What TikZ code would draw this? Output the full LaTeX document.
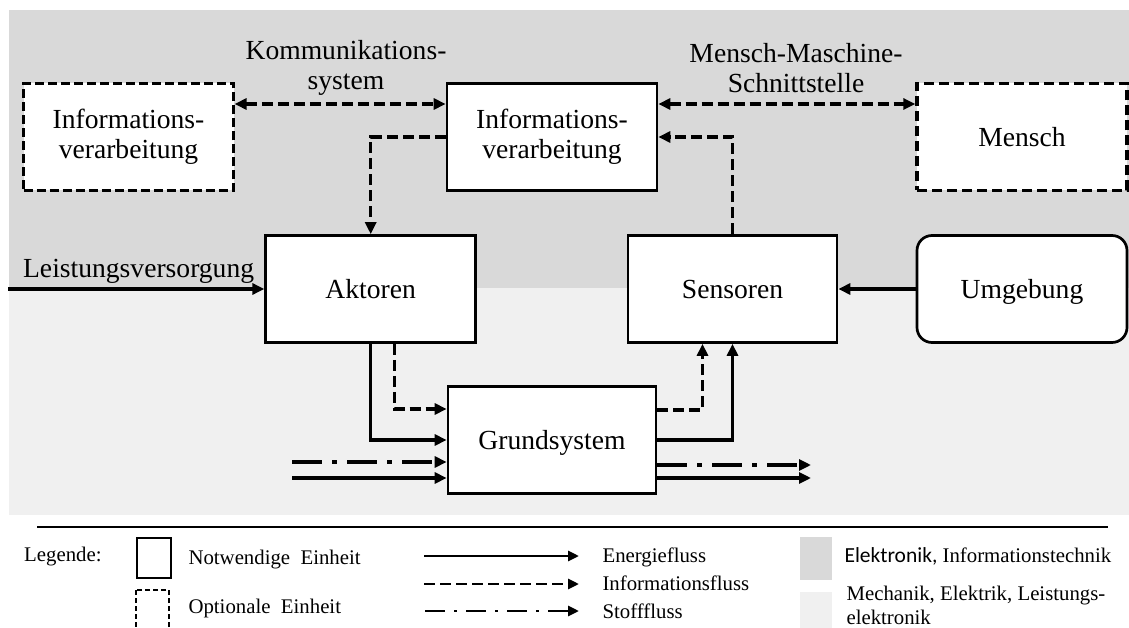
\documentclass[tikz,border=0pt]{standalone}
\usepackage{fontspec}
\setmainfont{Liberation Serif}
\newfontfamily\calibfont{Carlito}
\usetikzlibrary{arrows.meta}

\definecolor{elecgray}{HTML}{D9D9D9}
\definecolor{mechgray}{HTML}{F0F0F0}

\begin{document}
\begin{tikzpicture}[x=1pt,y=-1pt,
  bigtext/.style={font=\fontsize{27.6}{30.5}\selectfont},
  smalltext/.style={font=\fontsize{20.8}{24}\selectfont},
  unitbox/.style={draw, line width=2.7pt, fill=white, bigtext, align=center,
    inner sep=0pt, minimum width=#1, minimum height=107pt},
  unitbox/.default=210pt,
  oneline/.style={text height=18.6pt, text depth=0pt},
  optbox/.style={unitbox, line width=2.2pt, dash pattern=on 9pt off 4pt},
  optboxthick/.style={unitbox, line width=3.4pt, dash pattern=on 10pt off 5pt},
  tip/.style={-{Triangle[length=12pt,width=11pt]}},
  bitip/.style={{Triangle[length=12pt,width=11pt]}-{Triangle[length=12pt,width=11pt]}},
  energy/.style={line width=3.3pt, tip},
  infoflow/.style={line width=3.3pt, tip, dash pattern=on 11pt off 5pt},
  infobi/.style={line width=3.3pt, bitip, dash pattern=on 11pt off 5pt},
  matter/.style={line width=3.3pt, tip, dash pattern=on 30pt off 10pt on 5pt off 10pt},
  legline/.style={line width=2.8pt, -{Triangle[length=11pt,width=10pt]}},
]
\useasboundingbox (0,0) rectangle (1129,628);
\clip (0,0) rectangle (1129,628);

% domain backgrounds
\fill[elecgray] (9,10) rectangle (1129,288);
\fill[mechgray] (9,288) rectangle (1129,515);

% units
\node[optbox]      (infoL)  at (128.5,137) {Informations-\\verarbeitung};
\node[unitbox]     (infoC)  at (552,137)   {Informations-\\verarbeitung};
\node[optboxthick, oneline] (mensch) at (1022,137) {Mensch};
\node[unitbox, oneline]     (akt)    at (370.7,289) {Aktoren};
\node[unitbox=209pt, oneline] (sens) at (732.5,289) {Sensoren};
\node[unitbox, oneline, rounded corners=15pt] (umg) at (1022,289) {Umgebung};
\node[unitbox=208pt, oneline] (grund) at (552,440)  {Grundsystem};

% labels of the interfaces
\node[bigtext, align=center] (komm) at (346,68) {Kommunikations-\\system};
\node[bigtext, align=center] (mms)  at (796,68) {Mensch-Maschine-\\Schnittstelle};
\node[bigtext, anchor=base west] (lvtext) at (19.6,277) {Leistungsversorgung};

% information paths
\draw[infobi] ([yshift=33pt]infoL.east) -- ([yshift=33pt]infoC.west);
\draw[infobi] ([yshift=33pt]infoC.east) -- ([yshift=33pt]mensch.west);
\draw[infoflow] (infoC.west) -| (akt.north);
\draw[infoflow] (sens.north) |- (infoC.east);
\draw[infoflow] ([xshift=24pt]akt.south) |- ([yshift=31pt]grund.west);
\draw[infoflow] ([yshift=30pt]grund.east) -| ([xshift=-30pt]sens.south);

% energy paths
\coordinate (lv) at (8,289);
\draw[energy] (lv) -- (akt.west);
\draw[energy] (akt.south) |- (grund.west);
\draw[energy] (grund.east) -| (sens.south);
\draw[energy] (umg.west) -- (sens.east);

% external flows into and out of the base system
\coordinate (inM) at (292,462);
\coordinate (inE) at (292,478);
\coordinate (outM) at (811,465);
\coordinate (outE) at (811,478);
\draw[matter] (inM) -- (inM -| grund.west);
\draw[energy] (inE) -- (inE -| grund.west);
\draw[matter] (grund.east |- outM) -- (outM);
\draw[energy] (grund.east |- outE) -- (outE);

% legend
\coordinate (sepL) at (37,527);
\coordinate (sepR) at (1108,527);
\draw[line width=2pt] (sepL) -- (sepR);

\node[smalltext, anchor=base west] (leg) at (20.7,561) {Legende:};
\draw[line width=2.7pt] (137,538) rectangle (171,578);
\draw[line width=2pt, dash pattern=on 5pt off 3pt] (136,590) rectangle (169,640);
\node[smalltext, anchor=base west] (lgN) at (185,564) {Notwendige\ \ Einheit};
\node[smalltext, anchor=base west] (lgO) at (185,613) {Optionale\ \ Einheit};

\coordinate (eA) at (424,556); \coordinate (eB) at (579,556);
\coordinate (iA) at (424,584); \coordinate (iB) at (579,584);
\coordinate (sA) at (425,611); \coordinate (sB) at (579,611);
\draw[legline] (eA) -- (eB);
\draw[legline, dash pattern=on 11pt off 5pt] (iA) -- (iB);
\draw[legline, dash pattern=on 20pt off 9pt on 3pt off 9pt] (sA) -- (sB);
\node[smalltext, anchor=base west] (lgE) at (599,562) {Energiefluss};
\node[smalltext, anchor=base west] (lgI) at (599,590) {Informationsfluss};
\node[smalltext, anchor=base west] (lgS) at (599,618) {Stofffluss};

\fill[elecgray] (800,537) rectangle (832,580);
\fill[mechgray] (800,592) rectangle (832,630);
\node[smalltext, anchor=base west] (lgEl) at (841,562) {{\calibfont\fontsize{21.5}{24}\selectfont Elektronik,} Informationstechnik};
\node[smalltext, anchor=base west] (lgMe) at (843,600) {Mechanik,\ Elektrik,\ Leistungs-};
\node[smalltext, anchor=base west] (lgMe2) at (843,624) {elektronik};
\end{tikzpicture}
\end{document}
